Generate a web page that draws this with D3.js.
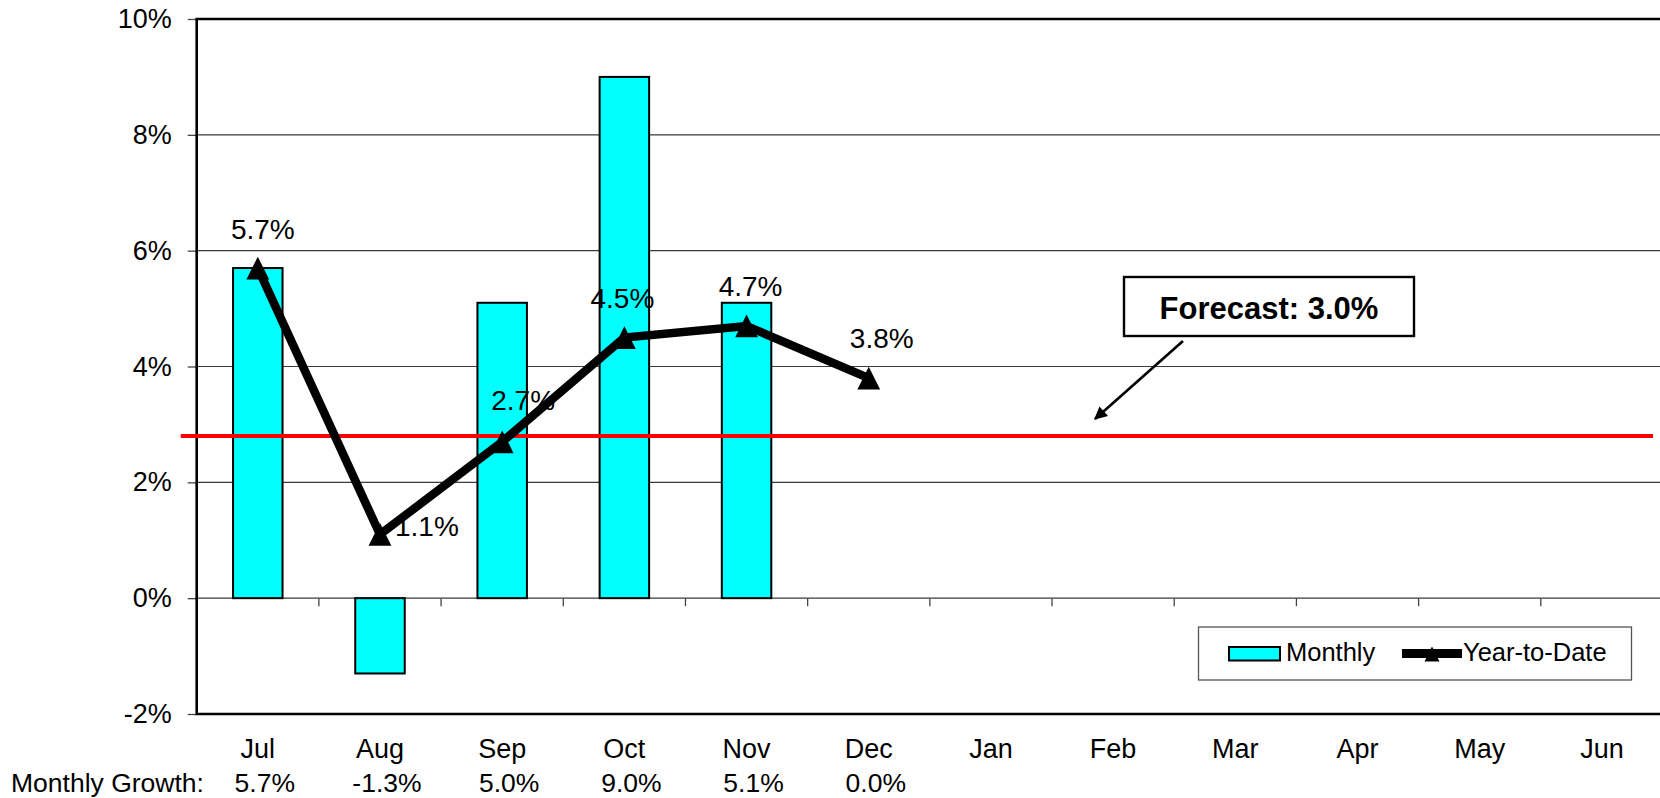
<!DOCTYPE html>
<html>
<head>
<meta charset="utf-8">
<script src="https://cdnjs.cloudflare.com/ajax/libs/d3/7.8.5/d3.min.js"></script>
<style>
    body { margin: 0; background: #fff; }
    svg { display: block; font-family: "Liberation Sans", Arial, sans-serif; }
</style>
</head>
<body>
<div class="growth_chart"></div>
<script>

// chart values
var months = ["Jul", "Aug", "Sep", "Oct", "Nov", "Dec", "Jan", "Feb", "Mar", "Apr", "May", "Jun"];
var monthly = [5.7, -1.3, 5.1, 9.0, 5.1, null, null, null, null, null, null, null];
var yearToDate = [5.7, 1.1, 2.7, 4.5, 4.7, 3.8];
var ytdLabels = ["5.7%", "1.1%", "2.7%", "4.5%", "4.7%", "3.8%"];
var growthLabels = ["5.7%", "-1.3%", "5.0%", "9.0%", "5.1%", "0.0%"];
var yTicks = [-2, 0, 2, 4, 6, 8, 10];
var forecastValue = 2.8;
var forecastText = "Forecast: 3.0%";

// label nudges (dx, dy, anchor) for the YTD data labels
var ytdLabelShift = [[5, -29, "middle"], [15, 2, "start"], [21, -32, "middle"], [-2, -30, "middle"], [4, -30, "middle"], [13, -30, "middle"]];

var div_width = 1660;
var div_height = 798;
var plotLeft = 196.7, plotRight = 1663, plotTop = 19, plotBottom = 714;

var svg = d3.select(".growth_chart").append("svg")
    .attr("width", div_width)
    .attr("height", div_height);

var x = d3.scaleBand()
    .domain(months)
    .range([plotLeft, plotRight])
    .padding(0);

var y = d3.scaleLinear()
    .domain([-2, 10])
    .range([plotBottom, plotTop]);

var barWidth = x.bandwidth() * 0.405;
function cx(i) { return x(months[i]) + x.bandwidth() / 2; }

// gridlines
svg.append("g")
    .selectAll("line")
    .data(yTicks.filter(function (d) { return d != -2 && d != 10; }))
    .enter().append("line")
    .attr("x1", plotLeft)
    .attr("x2", plotRight)
    .attr("y1", function (d) { return y(d); })
    .attr("y2", function (d) { return y(d); })
    .attr("stroke", "#3a3a3a")
    .attr("stroke-width", 1.2);

// y axis ticks and labels
var yAxis = d3.axisLeft(y)
    .tickValues(yTicks)
    .tickSize(9)
    .tickPadding(16)
    .tickFormat(function (d) { return d + "%"; });

svg.append("g")
    .attr("transform", "translate(" + plotLeft + ",0)")
    .call(yAxis)
    .call(function (g) {
        g.select(".domain").remove();
        g.selectAll(".tick line").attr("stroke", "#444").attr("stroke-width", 1.3);
        g.selectAll(".tick text")
            .attr("fill", "#000")
            .style("font-size", "27px")
            .style("font-family", "Liberation Sans, Arial, sans-serif");
    });

// category ticks on the zero line
svg.append("g")
    .selectAll("line")
    .data(months.slice(1))
    .enter().append("line")
    .attr("x1", function (d) { return x(d); })
    .attr("x2", function (d) { return x(d); })
    .attr("y1", y(0))
    .attr("y2", y(0) + 8)
    .attr("stroke", "#444")
    .attr("stroke-width", 1.3);

// plot frame
svg.append("path")
    .attr("d", "M" + plotRight + "," + plotTop + "H" + plotLeft + "V" + plotBottom + "H" + plotRight)
    .attr("fill", "none")
    .attr("stroke", "#000")
    .attr("stroke-width", 2.6);

// monthly bars
svg.append("g")
    .selectAll("rect")
    .data(monthly.map(function (v, i) { return { v: v, i: i }; }).filter(function (d) { return d.v != null; }))
    .enter().append("rect")
    .attr("x", function (d) { return cx(d.i) - barWidth / 2; })
    .attr("width", barWidth)
    .attr("y", function (d) { return y(Math.max(0, d.v)); })
    .attr("height", function (d) { return Math.abs(y(d.v) - y(0)); })
    .attr("fill", "#00ffff")
    .attr("stroke", "#000")
    .attr("stroke-width", 2);

// forecast line
svg.append("line")
    .attr("x1", plotLeft - 16)
    .attr("x2", plotRight - 10)
    .attr("y1", y(forecastValue))
    .attr("y2", y(forecastValue))
    .attr("stroke", "#ff0000")
    .attr("stroke-width", 4);

// year-to-date line
var line = d3.line()
    .x(function (d, i) { return cx(i); })
    .y(function (d) { return y(d); });

svg.append("path")
    .datum(yearToDate)
    .attr("d", line)
    .attr("fill", "none")
    .attr("stroke", "#000")
    .attr("stroke-width", 8.5)
    .attr("stroke-linejoin", "miter");

function triangle(s) {
    return "M0," + (-s) + "L" + s + "," + s + "L" + (-s) + "," + s + "Z";
}

svg.append("g")
    .selectAll("path")
    .data(yearToDate)
    .enter().append("path")
    .attr("transform", function (d, i) { return "translate(" + cx(i) + "," + y(d) + ")"; })
    .attr("d", triangle(11.4))
    .attr("fill", "#000");

svg.append("g")
    .selectAll("text")
    .data(ytdLabels)
    .enter().append("text")
    .attr("x", function (d, i) { return cx(i) + ytdLabelShift[i][0]; })
    .attr("y", function (d, i) { return y(yearToDate[i]) + ytdLabelShift[i][1]; })
    .attr("text-anchor", function (d, i) { return ytdLabelShift[i][2]; })
    .style("font-size", "28px")
    .text(function (d) { return d; });

// month labels
svg.append("g")
    .selectAll("text")
    .data(months)
    .enter().append("text")
    .attr("x", function (d, i) { return cx(i); })
    .attr("y", 758)
    .attr("text-anchor", "middle")
    .style("font-size", "27px")
    .text(function (d) { return d; });

// monthly growth row
svg.append("text")
    .attr("x", 11)
    .attr("y", 792)
    .style("font-size", "26.5px")
    .text("Monthly Growth:");

svg.append("g")
    .selectAll("text")
    .data(growthLabels)
    .enter().append("text")
    .attr("x", function (d, i) { return cx(i) + 7; })
    .attr("y", 792)
    .attr("text-anchor", "middle")
    .style("font-size", "26.5px")
    .text(function (d) { return d; });

// forecast callout
svg.append("rect")
    .attr("x", 1124)
    .attr("y", 277)
    .attr("width", 290)
    .attr("height", 59)
    .attr("fill", "#fff")
    .attr("stroke", "#000")
    .attr("stroke-width", 2.4);

svg.append("text")
    .attr("x", 1269)
    .attr("y", 318.5)
    .attr("text-anchor", "middle")
    .style("font-size", "31px")
    .style("font-weight", "bold")
    .text(forecastText);

svg.append("defs").append("marker")
    .attr("id", "arrowhead")
    .attr("viewBox", "0 0 10 10")
    .attr("refX", 9)
    .attr("refY", 5)
    .attr("markerWidth", 6)
    .attr("markerHeight", 5)
    .attr("markerUnits", "strokeWidth")
    .attr("orient", "auto")
    .append("path")
    .attr("d", "M0,0L10,5L0,10Z")
    .attr("fill", "#000");

svg.append("line")
    .attr("x1", 1183)
    .attr("y1", 341)
    .attr("x2", 1095)
    .attr("y2", 419)
    .attr("stroke", "#000")
    .attr("stroke-width", 2.6)
    .attr("marker-end", "url(#arrowhead)");

// legend
var legend = svg.append("g");

legend.append("rect")
    .attr("x", 1198.5)
    .attr("y", 627)
    .attr("width", 433)
    .attr("height", 53)
    .attr("fill", "#fff")
    .attr("stroke", "#555")
    .attr("stroke-width", 1.3);

legend.append("rect")
    .attr("x", 1229)
    .attr("y", 647)
    .attr("width", 51)
    .attr("height", 13.5)
    .attr("fill", "#00ffff")
    .attr("stroke", "#000")
    .attr("stroke-width", 2);

legend.append("text")
    .attr("x", 1286)
    .attr("y", 661)
    .style("font-size", "25.5px")
    .text("Monthly");

legend.append("line")
    .attr("x1", 1402)
    .attr("x2", 1462)
    .attr("y1", 653.5)
    .attr("y2", 653.5)
    .attr("stroke", "#000")
    .attr("stroke-width", 9);

legend.append("path")
    .attr("transform", "translate(1432,654)")
    .attr("d", triangle(7.5))
    .attr("fill", "#000");

legend.append("text")
    .attr("x", 1463)
    .attr("y", 661)
    .style("font-size", "25.5px")
    .text("Year-to-Date");

</script>
</body>
</html>
